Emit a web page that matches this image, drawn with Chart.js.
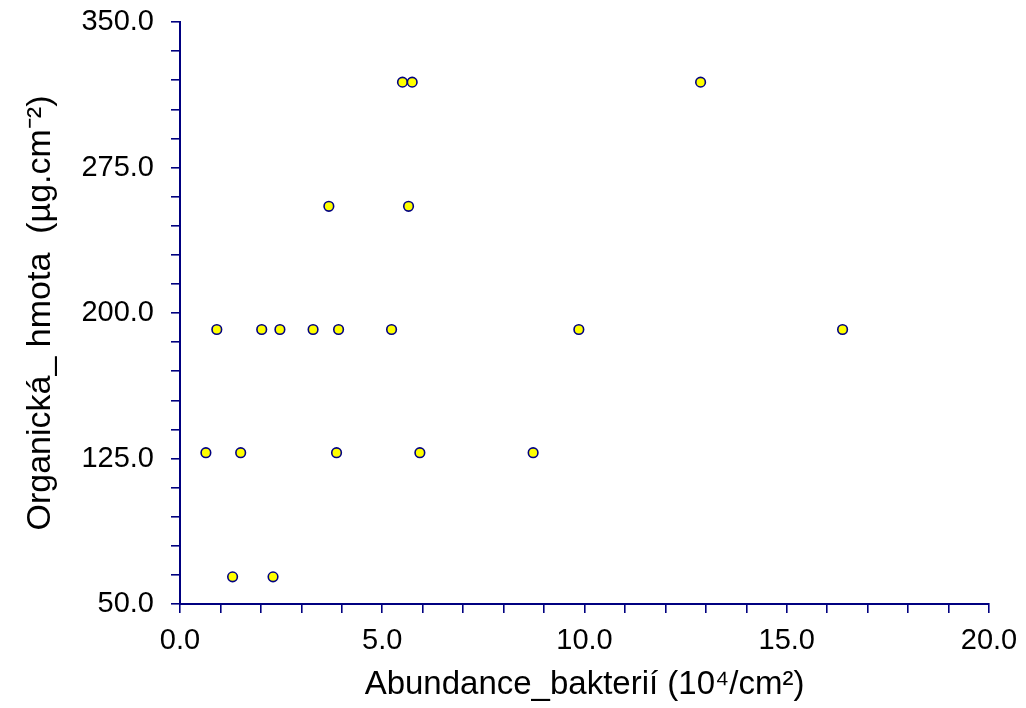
<!DOCTYPE html>
<html>
<head>
<meta charset="utf-8">
<script src="https://cdn.jsdelivr.net/npm/chart.js@4"></script>
<style>
  html, body { margin: 0; padding: 0; background: #ffffff; }
  #wrap { width: 1026px; height: 708px; }
</style>
</head>
<body>
<div id="wrap"><canvas id="c" width="1026" height="708"></canvas></div>
<script>
// Data
const abundance = [5.50, 5.74, 12.87, 3.68, 5.65, 0.91, 2.02, 2.47, 3.29, 3.92, 5.23, 9.86, 16.38, 0.64, 1.50, 3.87, 5.93, 8.73, 1.30, 2.30];
const organic   = [319, 319, 319, 255, 255, 191.5, 191.5, 191.5, 191.5, 191.5, 191.5, 191.5, 191.5, 128, 128, 128, 128, 128, 64, 64];

const xTickLabels = [0, 5, 10, 15, 20];
const yTickLabels = [50, 125, 200, 275, 350];

const xTitle = 'Abundance_bakterií (10\u2074/cm\u00B2)';
const yTitle = 'Organická_ hmota  (\u00B5g.cm\u207B\u00B2)';

const points = abundance.map((x, i) => ({ x: x, y: organic[i] }));

const NAVY = '#000080';
const FONT = "'Liberation Sans', Arial, sans-serif";

new Chart(document.getElementById('c'), {
  type: 'scatter',
  data: {
    datasets: [{
      data: points,
      backgroundColor: '#FFFF00',
      borderColor: NAVY,
      borderWidth: 1.6,
      pointRadius: 4.8,
      pointHoverRadius: 4.8
    }]
  },
  options: {
    responsive: false,
    animation: false,
    events: [],
    layout: { padding: { top: 22, right: 37, left: 0, bottom: 0 } },
    plugins: { legend: { display: false }, tooltip: { enabled: false } },
    scales: {
      x: {
        type: 'linear',
        min: 0, max: 20,
        afterFit: s => { s.height = 104; s.paddingLeft = 0; s.paddingRight = 0; },
        border: { display: true, color: NAVY, width: 2 },
        grid: { drawOnChartArea: false, drawTicks: true, tickLength: 9, color: NAVY, lineWidth: 1.6 },
        ticks: {
          stepSize: 1,
          autoSkip: false,
          maxRotation: 0,
          padding: 11,
          color: '#000000',
          font: { family: FONT, size: 29 },
          callback: v => xTickLabels.includes(v) ? v.toFixed(1) : ''
        },
        title: {
          display: true,
          text: xTitle,
          color: '#000000',
          font: { family: FONT, size: 33 },
          padding: { top: 0, bottom: 3 }
        }
      },
      y: {
        type: 'linear',
        min: 50, max: 350,
        afterFit: s => { s.width = 180; s.paddingTop = 0; s.paddingBottom = 0; },
        border: { display: true, color: NAVY, width: 2 },
        grid: { drawOnChartArea: false, drawTicks: true, tickLength: 9, color: NAVY, lineWidth: 1.6 },
        ticks: {
          stepSize: 15,
          autoSkip: false,
          padding: 17,
          color: '#000000',
          font: { family: FONT, size: 29 },
          callback: v => yTickLabels.includes(v) ? v.toFixed(1) : ''
        },
        title: {
          display: true,
          text: yTitle,
          color: '#000000',
          font: { family: FONT, size: 34 },
          padding: { top: 20, bottom: 0 }
        }
      }
    }
  }
});
</script>
</body>
</html>
